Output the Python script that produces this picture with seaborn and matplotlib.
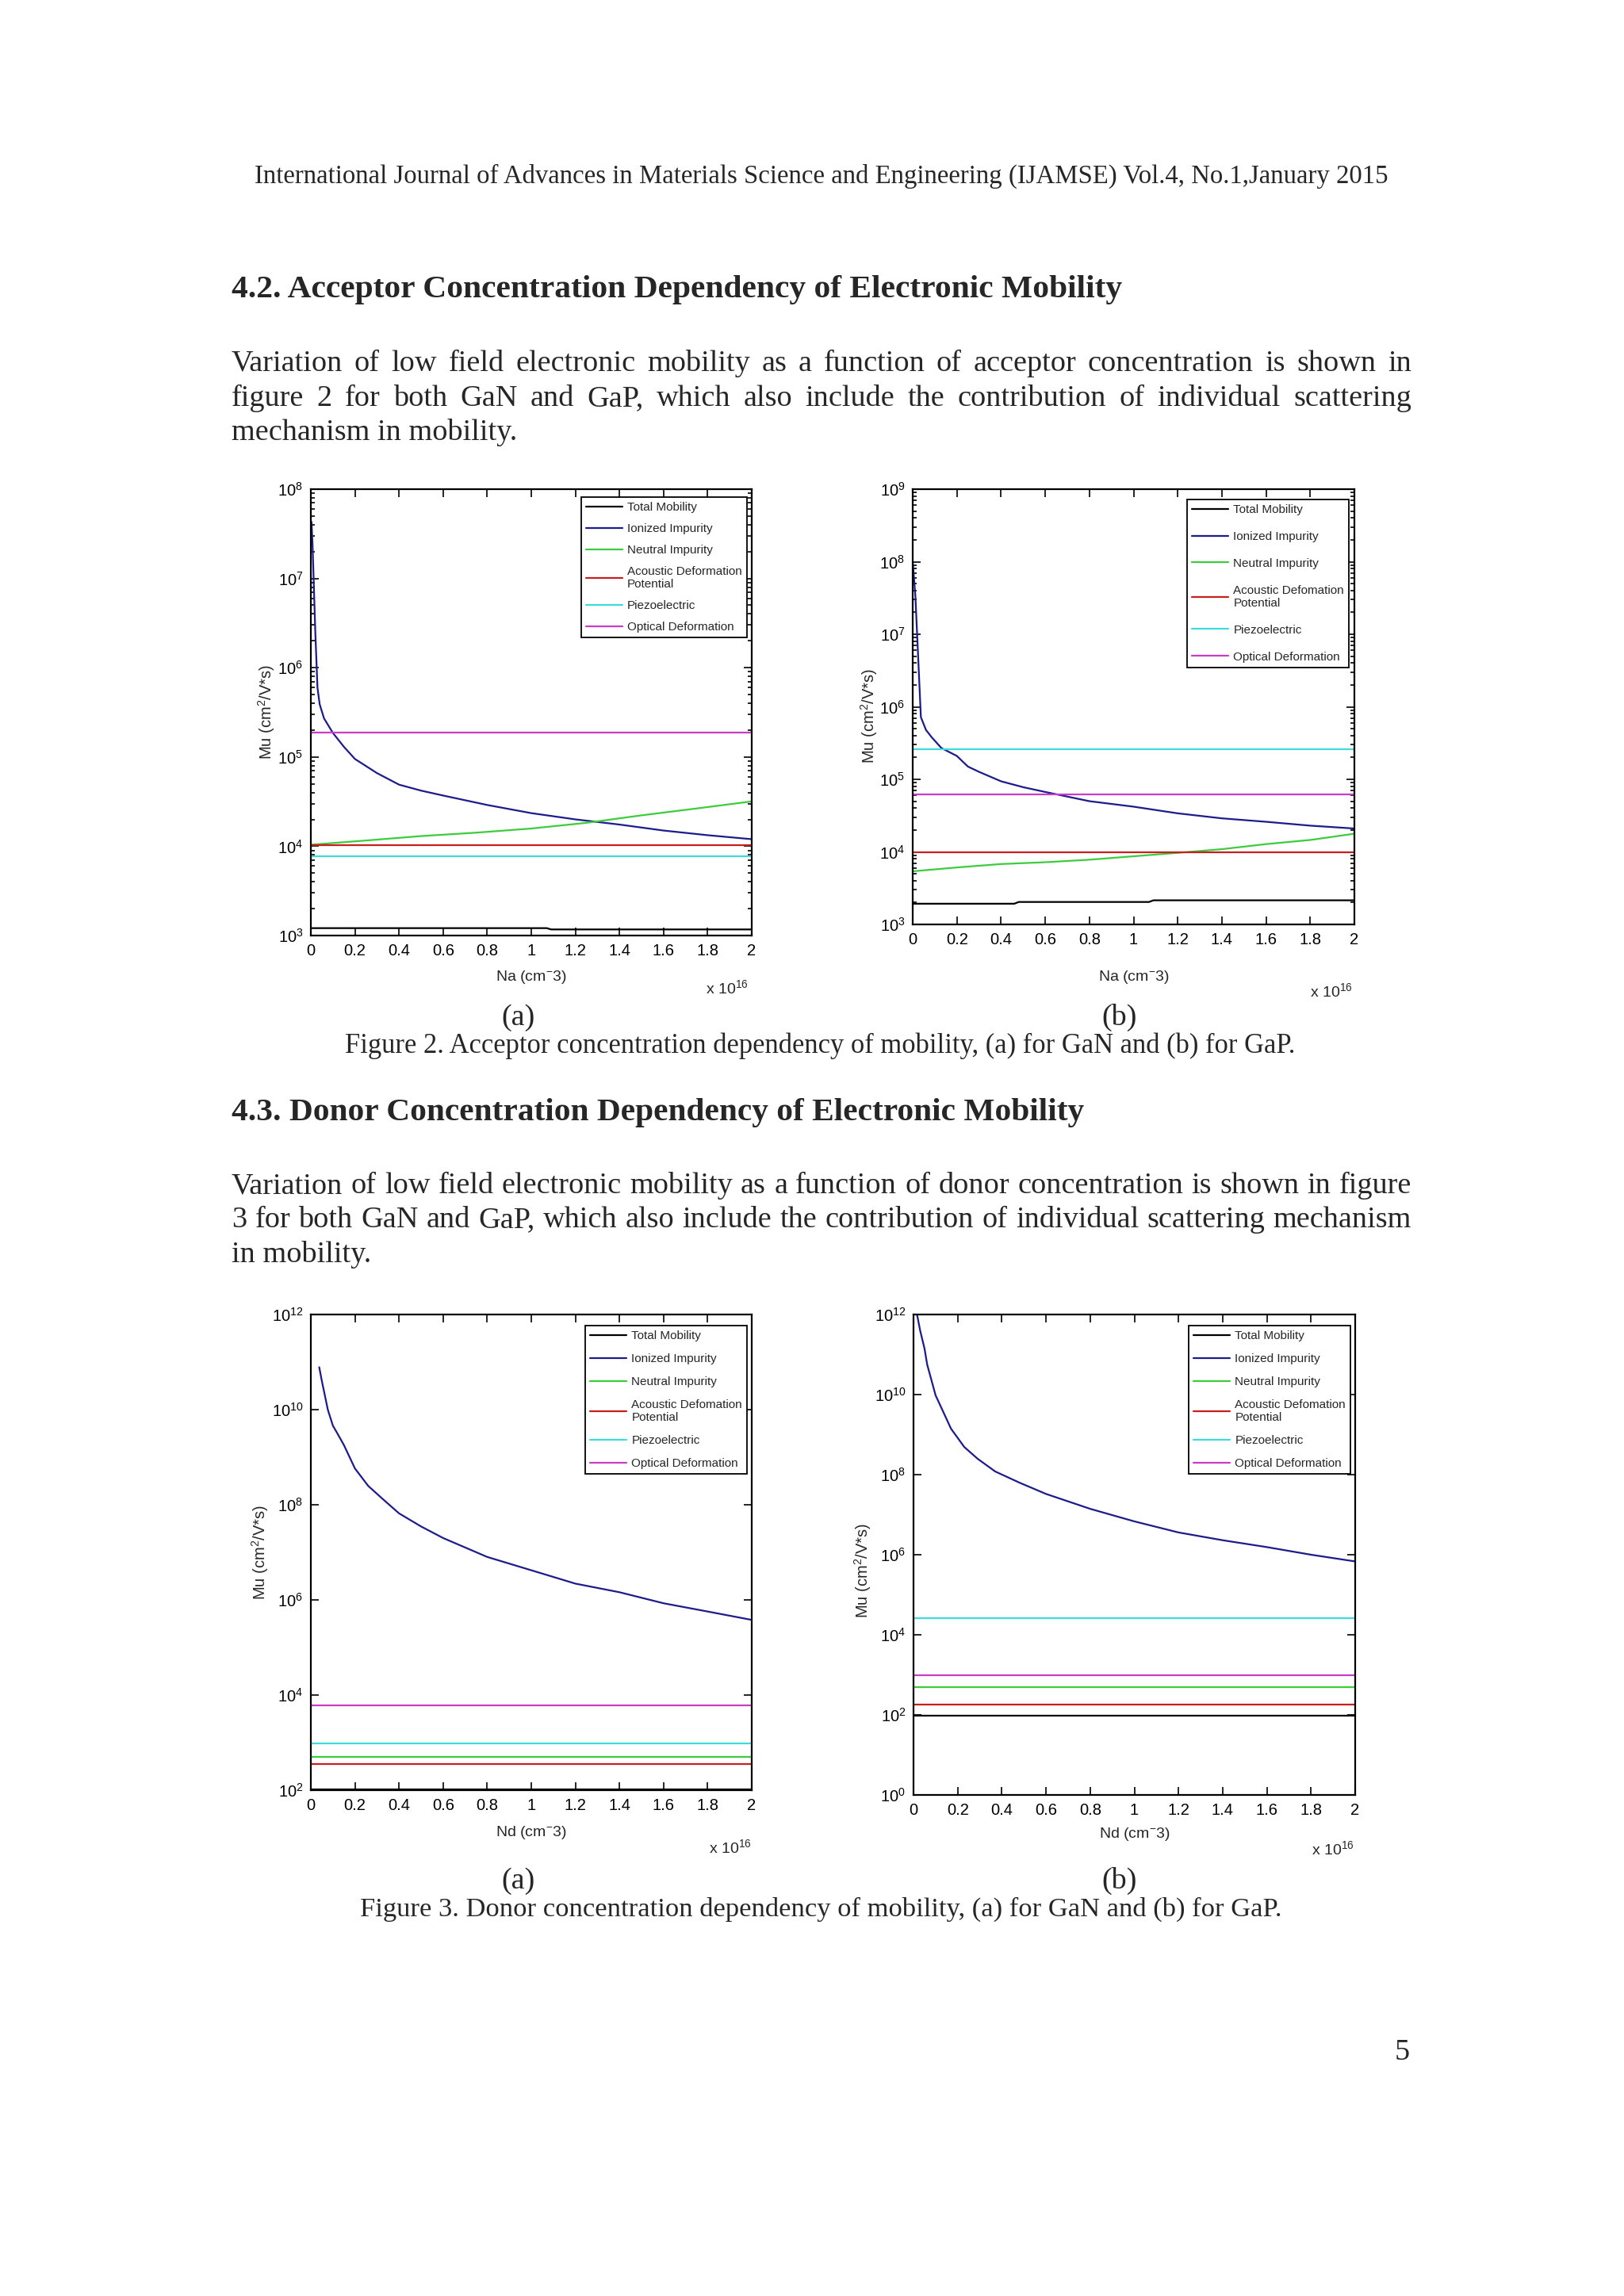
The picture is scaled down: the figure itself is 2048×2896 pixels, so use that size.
import numpy as np
import pandas as pd
import matplotlib
matplotlib.use('Agg')
import matplotlib.pyplot as plt
from matplotlib import ticker, font_manager
import seaborn as sns

# --- data (x in units of 1e16 cm^-3, mobility in cm^2/V*s) ---
series_names = ['Total Mobility', 'Ionized Impurity', 'Neutral Impurity',
                'Acoustic Deformation\nPotential', 'Piezoelectric', 'Optical Deformation']
series_names_typo = ['Total Mobility', 'Ionized Impurity', 'Neutral Impurity',
                     'Acoustic Defomation\nPotential', 'Piezoelectric', 'Optical Deformation']
x_ends = [0, 2]

# Figure 2(a): GaN, acceptor concentration
acc_gan_total_x = [0, 1.07, 1.09, 2]
acc_gan_total_y = [1.21e3, 1.21e3, 1.17e3, 1.17e3]
acc_gan_ion_x = [0.003, 0.008, 0.02, 0.03, 0.04, 0.06, 0.1, 0.15, 0.2, 0.3, 0.4,
                 0.5, 0.6, 0.8, 1.0, 1.2, 1.4, 1.6, 1.8, 2.0]
acc_gan_ion_y = [4.3e7, 2.3e7, 2.6e6, 6.0e5, 3.9e5, 2.7e5, 1.86e5, 1.3e5, 9.5e4, 6.6e4, 4.9e4,
                 4.2e4, 3.7e4, 2.9e4, 2.35e4, 2.0e4, 1.75e4, 1.5e4, 1.33e4, 1.2e4]
acc_gan_neu_x = [0, 0.25, 0.5, 0.75, 1.0, 1.25, 1.5, 1.75, 2.0]
acc_gan_neu_y = [1.04e4, 1.16e4, 1.30e4, 1.42e4, 1.58e4, 1.83e4, 2.22e4, 2.65e4, 3.18e4]
acc_gan_acoustic = 1.02e4
acc_gan_piezo = 7.8e3
acc_gan_optical = 1.86e5

# Figure 2(b): GaP, acceptor concentration
acc_gap_total_x = [0, 0.46, 0.48, 1.07, 1.09, 2]
acc_gap_total_y = [1.93e3, 1.93e3, 2.04e3, 2.04e3, 2.15e3, 2.15e3]
acc_gap_ion_x = [0.0, 0.012, 0.027, 0.037, 0.06, 0.086, 0.13, 0.2, 0.25, 0.3, 0.4,
                 0.5, 0.6, 0.8, 1.0, 1.2, 1.4, 1.6, 1.8, 2.0]
acc_gap_ion_y = [1.0e8, 3.4e7, 3.4e6, 7.2e5, 4.8e5, 3.8e5, 2.7e5, 2.1e5, 1.5e5, 1.27e5, 9.4e4,
                 7.8e4, 6.7e4, 5.0e4, 4.2e4, 3.4e4, 2.9e4, 2.6e4, 2.3e4, 2.1e4]
acc_gap_neu_x = [0, 0.2, 0.4, 0.6, 0.8, 1.0, 1.2, 1.4, 1.6, 1.8, 2.0]
acc_gap_neu_y = [5.4e3, 6.1e3, 6.8e3, 7.2e3, 7.8e3, 8.7e3, 9.7e3, 1.09e4, 1.28e4, 1.46e4, 1.78e4]
acc_gap_acoustic = 1.0e4
acc_gap_piezo = 2.6e5
acc_gap_optical = 6.25e4

# Figure 3(a): GaN, donor concentration
don_gan_total = 1.04e2
don_gan_ion_x = [0.038, 0.05, 0.077, 0.1, 0.125, 0.15, 0.2, 0.26, 0.32, 0.4, 0.5,
                 0.6, 0.8, 1.0, 1.2, 1.4, 1.6, 1.8, 2.0]
don_gan_ion_y = [7.8e10, 4.0e10, 1.0e10, 4.6e9, 2.9e9, 1.8e9, 5.8e8, 2.5e8, 1.4e8, 6.6e7, 3.5e7,
                 2.0e7, 8.0e6, 4.2e6, 2.2e6, 1.45e6, 8.5e5, 5.7e5, 3.8e5]
don_gan_neutral = 5.1e2
don_gan_acoustic = 3.6e2
don_gan_piezo = 9.5e2
don_gan_optical = 6.0e3

# Figure 3(b): GaP, donor concentration
don_gap_total = 95
don_gap_ion_x = [0.012, 0.03, 0.05, 0.062, 0.1, 0.17, 0.23, 0.29, 0.37, 0.48, 0.6,
                 0.8, 1.0, 1.2, 1.4, 1.6, 1.8, 2.0]
don_gap_ion_y = [1.3e12, 4.0e11, 1.4e11, 5.6e10, 9.6e9, 1.4e9, 4.9e8, 2.5e8, 1.2e8, 6.3e7, 3.3e7,
                 1.4e7, 6.8e6, 3.6e6, 2.3e6, 1.55e6, 1.0e6, 6.8e5]
don_gap_neutral = 4.9e2
don_gap_acoustic = 1.78e2
don_gap_piezo = 2.6e4
don_gap_optical = 1.0e3

colors = ['#000000', '#1c1c8c', '#3ccc3c', '#c81e1e', '#3cdcdc', '#c83cc8']

# --- fonts ---
sns.set_style('ticks')
installed = {f.name for f in font_manager.fontManager.ttflist}
narrow = 'Liberation Sans Narrow' in installed
SANS = 'Liberation Sans Narrow' if narrow else 'Liberation Sans'
SERIF = 'Liberation Serif'
k = 1.2 if narrow else 1.0
plt.rcParams['font.family'] = [SANS, 'DejaVu Sans']
plt.rcParams['mathtext.fontset'] = 'custom'
plt.rcParams['mathtext.rm'] = SANS
plt.rcParams['mathtext.it'] = SANS + ':italic'
plt.rcParams['mathtext.bf'] = SANS + ':bold'

W, H = 2048, 2896
fig = plt.figure(figsize=(W / 100, H / 100), dpi=100)
fig.patch.set_facecolor('white')
renderer = fig.canvas.get_renderer()


def fpos(x, y):
    return x / W, 1 - y / H


def const(v):
    return [v, v]


panels = [
    dict(box=(392, 617, 948, 1180), ylim=(1e3, 1e8), step=1, names=series_names,
         lines=[(acc_gan_total_x, acc_gan_total_y), (acc_gan_ion_x, acc_gan_ion_y),
                (acc_gan_neu_x, acc_gan_neu_y), (x_ends, const(acc_gan_acoustic)),
                (x_ends, const(acc_gan_piezo)), (x_ends, const(acc_gan_optical))],
         xlabel='Na (cm$^{-}$3)', leg=(942, 627), ls=0.85, xl=1222, yl=(-0.077, 0.5), off=(944, 1253)),
    dict(box=(1151, 617, 1708, 1166), ylim=(1e3, 1e9), step=1, names=series_names_typo,
         lines=[(acc_gap_total_x, acc_gap_total_y), (acc_gap_ion_x, acc_gap_ion_y),
                (acc_gap_neu_x, acc_gap_neu_y), (x_ends, const(acc_gap_acoustic)),
                (x_ends, const(acc_gap_piezo)), (x_ends, const(acc_gap_optical))],
         xlabel='Na (cm$^{-}$3)', leg=(1701, 630), ls=1.3, xl=1222, yl=(-0.076, 0.479), off=(1706, 1257)),
    dict(box=(392, 1658, 948, 2258), ylim=(1e2, 1e12), step=2, names=series_names_typo,
         lines=[(x_ends, const(don_gan_total)), (don_gan_ion_x, don_gan_ion_y),
                (x_ends, const(don_gan_neutral)), (x_ends, const(don_gan_acoustic)),
                (x_ends, const(don_gan_piezo)), (x_ends, const(don_gan_optical))],
         xlabel='Nd (cm$^{-}$3)', leg=(942, 1672), ls=0.98, xl=2301, yl=(-0.091, 0.5), off=(948, 2337)),
    dict(box=(1152, 1658, 1709, 2264), ylim=(1e0, 1e12), step=2, names=series_names_typo,
         lines=[(x_ends, const(don_gap_total)), (don_gap_ion_x, don_gap_ion_y),
                (x_ends, const(don_gap_neutral)), (x_ends, const(don_gap_acoustic)),
                (x_ends, const(don_gap_piezo)), (x_ends, const(don_gap_optical))],
         xlabel='Nd (cm$^{-}$3)', leg=(1703, 1672), ls=0.98, xl=2303, yl=(-0.091, 0.467), off=(1708, 2339)),
]

for p in panels:
    l, t, r, b = p['box']
    ax = fig.add_axes([l / W, 1 - b / H, (r - l) / W, (b - t) / H])
    for (xs, ys), name, c in zip(p['lines'], p['names'], colors):
        df = pd.DataFrame({'N': xs, 'mu': ys})
        sns.lineplot(data=df, x='N', y='mu', color=c, label=name, linewidth=1.6,
                     estimator=None, sort=False, ax=ax)
    ax.set_yscale('log')
    ax.set_xlim(0, 2)
    ax.set_ylim(*p['ylim'])
    ax.xaxis.set_major_locator(ticker.FixedLocator(np.arange(0, 2.01, 0.2)))
    ax.xaxis.set_major_formatter(ticker.FuncFormatter(lambda v, pos: '%g' % round(v, 1)))
    lo, hi = np.log10(p['ylim'])
    ax.yaxis.set_major_locator(ticker.FixedLocator(10.0 ** np.arange(lo, hi + 1, p['step'])))
    ax.yaxis.set_major_formatter(ticker.LogFormatterSciNotation())
    if p['step'] == 1:
        ax.yaxis.set_minor_locator(ticker.LogLocator(base=10, subs=np.arange(2, 10), numticks=100))
    else:
        ax.yaxis.set_minor_locator(ticker.NullLocator())
    ax.xaxis.set_minor_locator(ticker.NullLocator())
    ax.tick_params(which='both', direction='in', top=True, right=True, width=1.2, colors='black')
    ax.tick_params(which='major', length=7, labelsize=14.5 * k, pad=7)
    ax.tick_params(which='minor', length=3.5)
    for s in ax.spines.values():
        s.set_linewidth(1.6)
        s.set_color('black')
    ax.set_xlabel(p['xlabel'], fontsize=14 * k)
    ax.xaxis.set_label_coords(0.5, -(p['xl'] - b) / (b - t))
    ax.set_ylabel('Mu (cm$^2$/V*s)', fontsize=14.5 * k)
    ax.yaxis.set_label_coords(*p['yl'])
    ox, oy = p['off']
    ax.text((ox - l) / (r - l), -(oy - b) / (b - t), 'x 10$^{16}$', transform=ax.transAxes,
            ha='right', va='baseline', fontsize=14 * k)
    leg = ax.legend(loc='upper right', bbox_to_anchor=fpos(*p['leg']), bbox_transform=fig.transFigure,
                    borderaxespad=0, fontsize=11 * k, labelspacing=p['ls'], handlelength=3,
                    handletextpad=0.4, borderpad=0.4, fancybox=False, framealpha=1,
                    edgecolor='black')
    leg.get_frame().set_linewidth(1.3)

# --- page text ---
LEFT, RIGHT = 292, 1780


def width_of(s, size, weight='normal'):
    t = fig.text(0, 0, s, fontsize=size, family=SERIF, weight=weight)
    w = t.get_window_extent(renderer).width
    t.remove()
    return w


def put(s, x, y, width=None, size=None, ha='left', weight='normal'):
    if width is not None:
        size = 20 * width / width_of(s, 20, weight)
    fig.text(*fpos(x, y), s, fontsize=size, family=SERIF, weight=weight, ha=ha, va='baseline')
    return size


def justify(s, y, size):
    words = s.split()
    ws = [width_of(w, size) for w in words]
    gap = (RIGHT - LEFT - sum(ws)) / (len(words) - 1)
    x = LEFT
    for w, wd in zip(words, ws):
        fig.text(*fpos(x, y), w, fontsize=size, family=SERIF, va='baseline')
        x += wd + gap


put('International Journal of Advances in Materials Science and Engineering (IJAMSE) Vol.4, No.1,January 2015',
    321, 231, width=1428)
put('4.2. Acceptor Concentration Dependency of Electronic Mobility', LEFT, 375, width=1122, weight='bold')
body = 20 * 361 / width_of('mechanism in mobility.', 20)
justify('Variation of low field electronic mobility as a function of acceptor concentration is shown in', 468, body)
justify('figure 2 for both GaN and GaP, which also include the contribution of individual scattering', 512, body)
put('mechanism in mobility.', LEFT, 555, size=body)
put('(a)', 653, 1293, size=body, ha='center')
put('(b)', 1412, 1293, size=body, ha='center')
put('Figure 2. Acceptor concentration dependency of mobility, (a) for GaN and (b) for GaP.', 435, 1328, width=1197)
put('4.3. Donor Concentration Dependency of Electronic Mobility', LEFT, 1413, width=1074, weight='bold')
justify('Variation of low field electronic mobility as a function of donor concentration is shown in figure', 1505, body)
justify('3 for both GaN and GaP, which also include the contribution of individual scattering mechanism', 1548, body)
put('in mobility.', LEFT, 1592, size=body)
put('(a)', 653, 2382, size=body, ha='center')
put('(b)', 1412, 2382, size=body, ha='center')
put('Figure 3. Donor concentration dependency of mobility, (a) for GaN and (b) for GaP.', 454, 2417, width=1159)
put('5', 1778, 2598, size=body, ha='right')

fig.savefig('out.png', dpi=100, facecolor='white')
